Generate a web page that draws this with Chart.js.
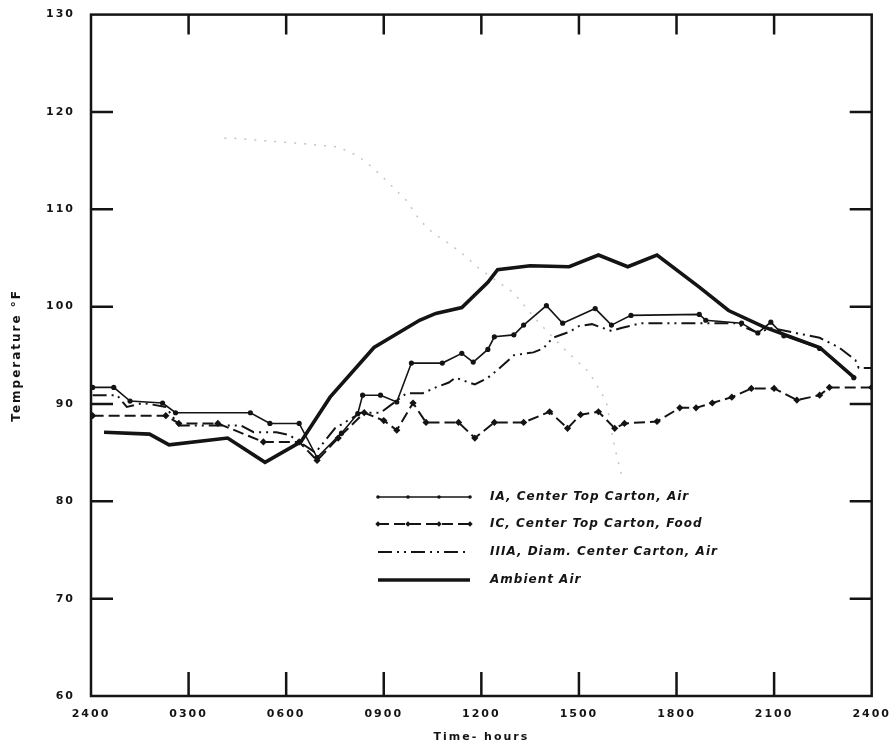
<!DOCTYPE html>
<html lang="en">
<head>
    <meta charset="UTF-8">
    <title>Temperature vs Time</title>
    <script src="https://cdn.jsdelivr.net/npm/chart.js@4.4.1/dist/chart.umd.min.js"></script>
    <style>
        * {
            margin: 0;
            padding: 0;
            box-sizing: border-box;
        }

        body {
            background: #fff;
            width: 891px;
            height: 746px;
            overflow: hidden;
        }

        .wrapper {
            position: relative;
            width: 891px;
            height: 746px;
        }
    </style>
</head>
<body>
    <div class="wrapper">
        <canvas id="chart"></canvas>
    </div>
    <script>
        // Hours after midnight (0 = 2400 of previous day) and temperatures in °F
        const iaHours = [0.05, 0.7, 1.2, 2.2, 2.6, 4.9, 5.5, 6.4, 6.95, 7.7, 8.2, 8.35, 8.9, 9.4, 9.85, 10.8, 11.4, 11.75, 12.2, 12.4, 13.0, 13.3, 14.0, 14.5, 15.5, 16.0, 16.6, 18.7, 18.9, 20.0, 20.5, 20.9, 21.3, 22.4, 23.45];
        const iaTemps = [91.7, 91.7, 90.3, 90.1, 89.1, 89.1, 88.0, 88.0, 84.5, 87.0, 89.0, 90.9, 90.9, 90.2, 94.2, 94.2, 95.2, 94.3, 95.6, 96.9, 97.1, 98.1, 100.1, 98.3, 99.8, 98.1, 99.1, 99.2, 98.6, 98.3, 97.3, 98.4, 97.0, 95.7, 92.7];

        const icHours = [0.05, 2.3, 2.7, 3.9, 5.3, 6.4, 6.95, 7.6, 8.4, 9.0, 9.4, 9.9, 10.3, 11.3, 11.8, 12.4, 13.3, 14.1, 14.65, 15.05, 15.6, 16.1, 16.4, 17.4, 18.1, 18.6, 19.1, 19.7, 20.3, 21.0, 21.7, 22.4, 22.7, 24];
        const icTemps = [88.8, 88.8, 88.0, 88.0, 86.1, 86.1, 84.2, 86.5, 89.1, 88.3, 87.3, 90.1, 88.1, 88.1, 86.5, 88.1, 88.1, 89.2, 87.5, 88.9, 89.2, 87.5, 88.0, 88.2, 89.6, 89.6, 90.1, 90.7, 91.6, 91.6, 90.4, 90.9, 91.7, 91.7];

        const iiiaHours = [0.05, 0.8, 1.1, 1.6, 2.3, 2.7, 4.6, 5.0, 5.7, 6.1, 6.9, 7.5, 8.3, 8.9, 9.7, 10.2, 10.6, 11.0, 11.2, 11.8, 12.2, 12.5, 13.0, 13.6, 13.9, 14.2, 14.7, 15.0, 15.4, 16.0, 16.3, 16.9, 19.8, 20.5, 20.9, 22.4, 23.0, 23.5, 23.6, 24];
        const iiiaTemps = [90.9, 90.9, 89.7, 90.1, 89.7, 87.8, 87.8, 87.1, 87.1, 86.8, 85.0, 87.5, 89.1, 89.1, 91.1, 91.1, 91.7, 92.2, 92.7, 92.0, 92.7, 93.5, 95.0, 95.3, 95.7, 96.8, 97.4, 98.0, 98.2, 97.5, 97.8, 98.3, 98.3, 97.3, 97.8, 96.8, 95.8, 94.5, 93.7, 93.7];

        const ambientHours = [0.4, 1.8, 2.4, 4.2, 5.35, 6.45, 7.35, 8.7, 10.1, 10.6, 11.4, 12.2, 12.5, 13.5, 14.7, 15.6, 16.5, 17.4, 18.7, 19.6, 20.7, 22.4, 23.5];
        const ambientTemps = [87.1, 86.9, 85.8, 86.5, 84.0, 86.1, 90.7, 95.8, 98.6, 99.3, 99.9, 102.5, 103.8, 104.2, 104.1, 105.3, 104.1, 105.3, 102.0, 99.6, 97.9, 95.8, 92.6];

        // faint dotted trace that shows through the sheet
        const faintHours = [4.1, 4.4, 6.65, 7.6, 8.2, 8.65, 9.0, 9.7, 9.9, 10.1, 10.5, 10.95, 11.4, 11.9, 13.0, 13.7, 14.5, 15.3, 15.7, 15.85, 16.1, 16.35];
        const faintTemps = [117.3, 117.3, 116.7, 116.4, 115.5, 114.3, 113.2, 110.9, 109.9, 108.9, 107.6, 106.6, 105.5, 104.0, 101.4, 98.6, 95.8, 93.3, 91.1, 90.1, 85.5, 82.2];

        const seriesLabels = ["IA, Center Top Carton, Air", "IC, Center Top Carton, Food", "IIIA, Diam. Center Carton, Air", "Ambient Air"];
        const xTicks = [0, 3, 6, 9, 12, 15, 18, 21, 24];
        const yTicks = [60, 70, 80, 90, 100, 110, 120, 130];

        const pts = (hs, ts) => hs.map((h, i) => ({ x: h, y: ts[i] }));
        const hourLabel = (v) => v === 0 ? "2400" : String(v * 100).padStart(4, "0");

        const ink = "#141414";
        Chart.defaults.font.family = '"DejaVu Sans", sans-serif';
        Chart.defaults.font.weight = "bold";
        Chart.defaults.color = ink;

        // Frame with inward tick marks on all four sides
        const framePlugin = {
            id: "frame",
            beforeDraw(chart) {
                chart.ctx.letterSpacing = "2px";
            },
            afterDatasetsDraw(chart) {
                const { ctx, chartArea: a, scales } = chart;
                ctx.save();
                ctx.strokeStyle = ink;
                ctx.lineWidth = 2.5;
                ctx.strokeRect(a.left, a.top, a.right - a.left, a.bottom - a.top);
                ctx.beginPath();
                yTicks.slice(1, -1).forEach(v => {
                    const y = scales.y.getPixelForValue(v);
                    ctx.moveTo(a.left, y); ctx.lineTo(a.left + 22, y);
                    ctx.moveTo(a.right, y); ctx.lineTo(a.right - 22, y);
                });
                xTicks.slice(1, -1).forEach(v => {
                    const x = scales.x.getPixelForValue(v);
                    ctx.moveTo(x, a.bottom); ctx.lineTo(x, a.bottom - 24);
                    ctx.moveTo(x, a.top); ctx.lineTo(x, a.top + 20);
                });
                ctx.stroke();
                ctx.restore();
            },
            afterDraw(chart) {
                chart.ctx.letterSpacing = "0px";
            }
        };

        // Legend drawn inside the plot, lower middle
        const legendPlugin = {
            id: "innerLegend",
            afterDraw(chart) {
                const ctx = chart.ctx;
                const x0 = 378, x1 = 470, tx = 490;
                const rows = [497, 524, 552, 580];
                ctx.save();
                ctx.letterSpacing = "1px";
                chart.data.datasets.slice(0, 4).forEach((ds, i) => {
                    const y = rows[i];
                    ctx.strokeStyle = ink;
                    ctx.fillStyle = ink;
                    ctx.lineWidth = ds.borderWidth;
                    ctx.setLineDash(ds.borderDash || []);
                    ctx.beginPath();
                    ctx.moveTo(x0, y);
                    ctx.lineTo(x1, y);
                    ctx.stroke();
                    ctx.setLineDash([]);
                    if (ds.pointRadius > 0) {
                        [x0, x0 + 30, x0 + 61, x1].forEach(px => {
                            ctx.beginPath();
                            if (ds.pointStyle === "rectRot") {
                                const r = ds.pointRadius + 0.5;
                                ctx.moveTo(px, y - r); ctx.lineTo(px + r, y);
                                ctx.lineTo(px, y + r); ctx.lineTo(px - r, y);
                                ctx.closePath();
                            } else {
                                ctx.arc(px, y, ds.pointRadius, 0, Math.PI * 2);
                            }
                            ctx.fill();
                        });
                    }
                    ctx.font = 'bold italic 12px "DejaVu Sans", sans-serif';
                    ctx.textBaseline = "middle";
                    ctx.fillText(ds.label, tx, y);
                });
                ctx.restore();
            }
        };

        new Chart(document.getElementById("chart"), {
            type: "line",
            data: {
                datasets: [
                    {
                        label: seriesLabels[0],
                        data: pts(iaHours, iaTemps),
                        borderColor: ink,
                        backgroundColor: ink,
                        borderWidth: 1.6,
                        pointRadius: 1.8,
                        pointStyle: "circle",
                    },
                    {
                        label: seriesLabels[1],
                        data: pts(icHours, icTemps),
                        borderColor: ink,
                        backgroundColor: ink,
                        borderWidth: 2,
                        borderDash: [11, 5],
                        pointRadius: 2.2,
                        pointStyle: "rectRot",
                    },
                    {
                        label: seriesLabels[2],
                        data: pts(iiiaHours, iiiaTemps),
                        borderColor: ink,
                        backgroundColor: ink,
                        borderWidth: 2,
                        borderDash: [14, 5, 2, 5, 2, 5],
                        pointRadius: 0,
                    },
                    {
                        label: seriesLabels[3],
                        data: pts(ambientHours, ambientTemps),
                        borderColor: ink,
                        backgroundColor: ink,
                        borderWidth: 3.6,
                        pointRadius: 0,
                    },
                    {
                        label: "",
                        data: pts(faintHours, faintTemps),
                        borderColor: "#c4c4c4",
                        borderWidth: 1.5,
                        borderDash: [2, 8],
                        pointRadius: 0,
                    }
                ]
            },
            options: {
                responsive: true,
                maintainAspectRatio: false,
                animation: false,
                layout: { padding: { left: 6, right: 14, top: 14, bottom: 0 } },
                elements: { line: { tension: 0 } },
                plugins: {
                    legend: { display: false },
                    tooltip: { enabled: false },
                },
                scales: {
                    x: {
                        type: "linear",
                        min: 0,
                        max: 24,
                        afterBuildTicks: (scale) => { scale.ticks = xTicks.map(v => ({ value: v })); },
                        grid: { display: false },
                        border: { display: false },
                        ticks: {
                            padding: 4,
                            font: { size: 11, weight: "bold" },
                            maxRotation: 0,
                            callback: (v) => hourLabel(v),
                        },
                        title: {
                            display: true,
                            text: "Time- hours",
                            font: { size: 11, weight: "bold" },
                            padding: { top: 4, bottom: 2 },
                        },
                        afterFit: (scale) => { scale.height = 50; },
                    },
                    y: {
                        min: 60,
                        max: 130,
                        afterBuildTicks: (scale) => { scale.ticks = yTicks.map(v => ({ value: v })); },
                        grid: { display: false },
                        border: { display: false },
                        ticks: {
                            padding: 8,
                            font: { size: 11, weight: "bold" },
                        },
                        title: {
                            display: true,
                            text: "Temperature °F",
                            font: { size: 12, weight: "bold" },
                            padding: { top: 4, bottom: 4 },
                        },
                        afterFit: (scale) => { scale.width = 85; },
                    }
                }
            },
            plugins: [framePlugin, legendPlugin]
        });
    </script>
</body>
</html>
